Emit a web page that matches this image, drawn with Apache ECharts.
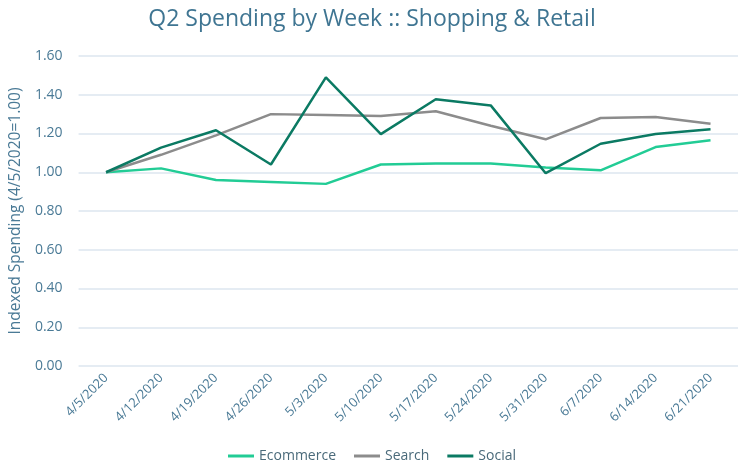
<!DOCTYPE html>
<html>
<head>
<meta charset="utf-8">
<script src="https://cdn.jsdelivr.net/npm/echarts@6/dist/echarts.min.js"></script>
<style>
  html, body { margin: 0; padding: 0; background: #fff; }
  #chart { width: 744px; height: 468px; }
</style>
</head>
<body>
<div id="chart"></div>
<script>
var weeks = ['4/5/2020', '4/12/2020', '4/19/2020', '4/26/2020', '5/3/2020', '5/10/2020',
  '5/17/2020', '5/24/2020', '5/31/2020', '6/7/2020', '6/14/2020', '6/21/2020'];
var ecommerce = [1.00, 1.02, 0.96, 0.95, 0.94, 1.04, 1.045, 1.045, 1.025, 1.01, 1.13, 1.165];
var search = [1.00, 1.09, 1.19, 1.30, 1.295, 1.29, 1.315, 1.24, 1.17, 1.28, 1.285, 1.25];
var social = [1.00, 1.127, 1.217, 1.04, 1.49, 1.197, 1.377, 1.345, 0.995, 1.147, 1.197, 1.222];

var textColor = '#4a7a96';
var chart = echarts.init(document.getElementById('chart'));

function line(name, data, color) {
  return {
    name: name,
    type: 'line',
    data: data,
    symbol: 'none',
    lineStyle: { width: 2.5, color: color },
    itemStyle: { color: color }
  };
}

chart.setOption({
  animation: false,
  textStyle: { fontFamily: 'Open Sans' },
  title: {
    text: 'Q2 Spending by Week :: Shopping & Retail',
    left: 'center',
    top: 3,
    textStyle: { fontFamily: 'Open Sans', fontSize: 23, fontWeight: 'normal', color: '#3f7592' }
  },
  legend: {
    bottom: 0,
    left: 'center',
    itemWidth: 26,
    itemHeight: 3,
    itemGap: 18,
    icon: 'rect',
    textStyle: { fontSize: 14, color: '#4a6a7a', fontFamily: 'Open Sans' },
    data: ['Ecommerce', 'Search', 'Social']
  },
  grid: { left: 78, right: 6, top: 56, bottom: 102 },
  xAxis: {
    type: 'category',
    data: weeks,
    boundaryGap: true,
    axisLine: { show: false },
    axisTick: { show: false },
    axisLabel: { rotate: 45, color: textColor, fontSize: 13, margin: 10, interval: 0 }
  },
  yAxis: {
    type: 'value',
    min: 0,
    max: 1.6,
    interval: 0.2,
    name: 'Indexed Spending (4/5/2020=1.00)',
    nameLocation: 'middle',
    nameGap: 48,
    nameTextStyle: { color: textColor, fontSize: 15.5 },
    axisLabel: {
      color: textColor,
      fontSize: 14,
      margin: 16,
      formatter: function (v) { return v.toFixed(2); }
    },
    splitLine: { lineStyle: { color: '#dce6ef', width: 1.5 } }
  },
  series: [
    line('Ecommerce', ecommerce, '#22cc95'),
    line('Search', search, '#8c8c8c'),
    line('Social', social, '#0b7a63')
  ]
});
</script>
</body>
</html>
